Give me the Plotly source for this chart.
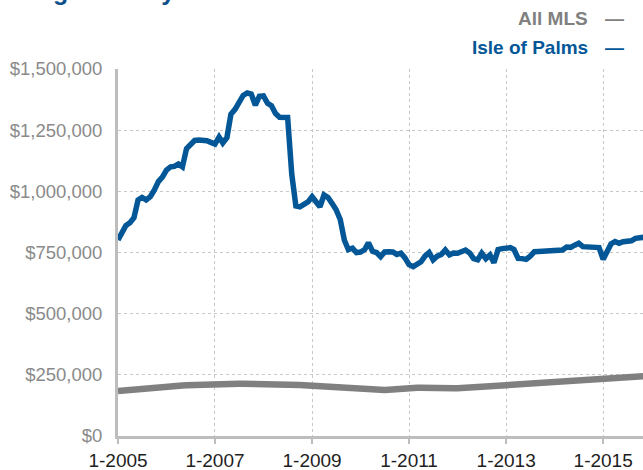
import plotly.graph_objects as go
import pandas as pd

start_month = "2005-01-01"
isle_of_palms = [
    801, 835, 860, 872, 892, 965, 975, 965, 978, 1005, 1040, 1058,
    1087, 1100, 1102, 1112, 1100, 1175, 1192, 1208, 1210, 1210, 1207, 1200,
    1193, 1222, 1198, 1220, 1315, 1335, 1360, 1392, 1402, 1398, 1352, 1388,
    1390, 1360, 1350, 1318, 1303, 1302, 1302, 1070, 940, 937, 945, 957,
    978, 960, 937, 985, 975, 950, 925, 885, 800, 762, 768, 750,
    752, 762, 790, 755, 750, 733, 752, 753, 752, 742, 747, 728,
    700, 692, 699, 712, 735, 750, 720, 735, 742, 760, 740, 748,
    747, 752, 760, 748, 725, 720, 747, 725, 740, 708, 762, 766,
    768, 770, 762, 726, 725, 722, 735, 753, 754, 755, 756, 756,
    757, 758, 760, 772, 771, 780, 788, 774, 773, 774, 774, 770,
    722, 750, 785, 795, 788, 794, 796, 798, 808, 810, 812,
]
all_mls = [
    184, 185, 187, 188, 190, 191, 193, 194, 196, 197, 199, 200,
    202, 203, 204, 205, 206, 207, 208, 209, 209, 210, 210, 211,
    211, 212, 212, 213, 213, 214, 214, 214, 214, 214, 213, 213,
    213, 212, 212, 211, 211, 210, 209, 209, 208, 208, 207, 206,
    205, 204, 202, 200, 198, 196, 195, 194, 193, 192, 191, 190,
    189, 189, 189, 189, 188, 188, 188, 189, 191, 193, 195, 196,
    196, 196, 197, 197, 196, 196, 196, 195, 195, 194, 194, 195,
    195, 196, 197, 198, 199, 200, 200, 201, 202, 203, 204, 205,
    206, 207, 208, 209, 210, 211, 212, 213, 214, 216, 217, 219,
    220, 221, 222, 223, 224, 225, 226, 227, 228, 229, 230, 230,
    231, 231, 232, 233, 235, 237, 238, 240, 241, 243, 244,
]
y_ticks = [0, 250000, 500000, 750000, 1000000, 1250000, 1500000]
y_tick_labels = ["$0", "$250,000", "$500,000", "$750,000", "$1,000,000", "$1,250,000", "$1,500,000"]
x_ticks = ["2005-01-01", "2007-01-01", "2009-01-01", "2011-01-01", "2013-01-01", "2015-01-01"]
x_tick_labels = ["1-2005", "1-2007", "1-2009", "1-2011", "1-2013", "1-2015"]
legend_names = ["All MLS", "Isle of Palms"]
title_text = "Single Family Detached"

BLUE = "#045797"
GRAY = "#808080"

dates_blue = pd.date_range(start_month, periods=len(isle_of_palms), freq="MS")
dates_gray = pd.date_range(start_month, periods=len(all_mls), freq="MS")

fig = go.Figure()
fig.add_trace(go.Scatter(x=dates_gray, y=[v * 1000 for v in all_mls], mode="lines",
                         line=dict(color=GRAY, width=6.5), name=legend_names[0]))
fig.add_trace(go.Scatter(x=dates_blue, y=[v * 1000 for v in isle_of_palms], mode="lines",
                         line=dict(color=BLUE, width=5.5), name=legend_names[1]))

L, T, B = 118, 69, 34
PW, PH = 643 - L, 470 - T - B

fig.update_layout(
    width=643, height=470,
    margin=dict(l=L, r=0, t=T, b=B),
    paper_bgcolor="white", plot_bgcolor="white",
    showlegend=False,
    font=dict(family="Liberation Sans, Arial, sans-serif"),
)
fig.update_xaxes(
    range=["2005-01-01", "2015-10-28"],
    tickvals=x_ticks, ticktext=x_tick_labels,
    tickfont=dict(size=19, color="#1e1e1e"),
    showgrid=True, gridcolor="#c8c8c8", griddash="dot", gridwidth=1,
    showline=True, linecolor="#bdbdbd", linewidth=3,
    ticks="outside", ticklen=5, tickcolor="#bdbdbd", tickwidth=2,
    zeroline=False,
)
fig.update_yaxes(
    range=[0, 1500000],
    tickvals=y_ticks, ticktext=y_tick_labels,
    tickfont=dict(size=18.5, color="#8a8a8a"),
    showgrid=True, gridcolor="#c8c8c8", griddash="dot", gridwidth=1,
    showline=True, linecolor="#bdbdbd", linewidth=3,
    ticks="", ticklabelstandoff=9,
    zeroline=False,
)

legend_colors = [GRAY, BLUE]
legend_y = [18, 48]
for name, col, yy in zip(legend_names, legend_colors, legend_y):
    fig.add_annotation(text=f"<b>{name}</b>", xref="paper", yref="paper",
                       x=(590 - L) / PW, y=1 + (T - yy) / PH,
                       xanchor="right", yanchor="middle", showarrow=False,
                       font=dict(family="Liberation Sans Narrow, Arial Narrow, Liberation Sans, sans-serif",
                                 size=19, color=col))
    fig.add_annotation(text="<b>—</b>", xref="paper", yref="paper",
                       x=(626 - L) / PW, y=1 + (T - yy) / PH,
                       xanchor="right", yanchor="middle", showarrow=False,
                       font=dict(family="Liberation Sans, Arial, sans-serif", size=19, color=col))

fig.add_annotation(text=f"<b>{title_text}</b>", xref="paper", yref="paper",
                   x=-(L - 12) / PW, y=1 + (T - 7) / PH, xanchor="left", yanchor="bottom",
                   showarrow=False,
                   font=dict(family="Liberation Sans, Arial, sans-serif", size=25, color="#0b4f8a"))

fig.write_html("out.html", config={"displayModeBar": False},
               post_script="document.body.style.margin='0';document.body.style.overflow='hidden';")
